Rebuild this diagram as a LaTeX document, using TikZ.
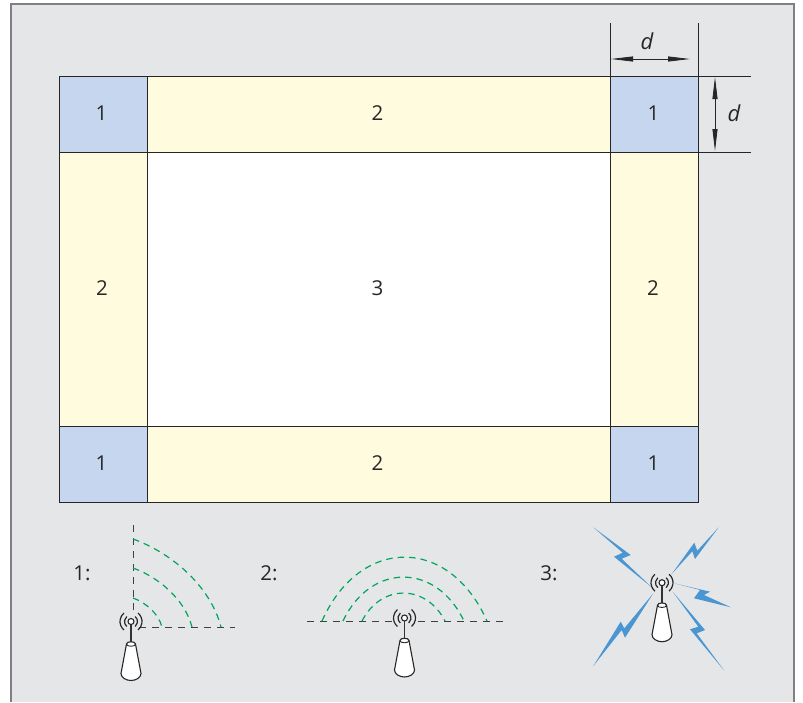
\documentclass[tikz,border=0pt]{standalone}
\usepackage{fontspec}
\setmainfont{Open Sans}
\usepackage{tikz}
\usetikzlibrary{arrows.meta}
\definecolor{panelgray}{HTML}{E5E6E8}
\definecolor{framegray}{HTML}{7F8083}
\definecolor{cornerblue}{HTML}{C5D6EE}
\definecolor{edgeyellow}{HTML}{FEFBDF}
\definecolor{wavegreen}{HTML}{00A65A}
\definecolor{boltblue}{HTML}{4A96D2}
\tikzset{
  label/.style={font=\fontsize{20.5}{24}\selectfont, text=black!85, inner sep=0pt},
  dimlabel/.style={font=\fontsize{22}{24}\selectfont\itshape, text=black!85, inner sep=0pt},
  cellline/.style={draw=black!85, line width=0.9pt},
  dimline/.style={black!85, line width=0.8pt},
  dimarrow/.style={black!85, line width=0.8pt, {Triangle[length=22pt,width=5pt]}-{Triangle[length=22pt,width=5pt]}},
  wave/.style={wavegreen, line width=1.2pt, dash pattern=on 6.5pt off 5pt},
  ground/.style={black!75, line width=0.9pt, dash pattern=on 7pt off 6pt},
  pics/antenna/.style={code={
    \draw[black!80, line width=1.3pt] (0,3) -- (0,22);
    \draw[black!85, line width=1.1pt, fill=white] (-4.5,22.5) -- (-10,52) .. controls (-10,56) and (-5,59) .. (0,59) .. controls (5,59) and (10,56) .. (10,52) -- (4.5,22.5) .. controls (4.5,19.5) and (-4.5,19.5) .. cycle;
    \draw[black!85, line width=0.9pt] (-4.5,22.5) .. controls (-4.5,25.5) and (4.5,25.5) .. (4.5,22.5);
    \draw[black!85, line width=1.1pt, fill=white] (0,0) circle (3);
    \foreach \r in {6.5,11} {
      \draw[black!85, line width=1.2pt] (-50:\r) arc (-50:50:\r);
      \draw[black!85, line width=1.2pt] (130:\r) arc (130:230:\r);
    }
  }}
}
\begin{document}
\begin{tikzpicture}[x=1pt,y=-1pt]
\useasboundingbox (0,0) rectangle (803,702);
\fill[panelgray] (11,4) rectangle (794,702);
\draw[framegray, line width=1.2pt] (11,702) -- (11,4) -- (794,4) -- (794,702);
% cells
\fill[white] (147,152) rectangle (610,426);
\foreach \xa/\xb in {59/147,610/698} {
  \foreach \ya/\yb in {76/152,426/502} {
    \fill[cornerblue] (\xa,\ya) rectangle (\xb,\yb);
  }
  \fill[edgeyellow] (\xa,152) rectangle (\xb,426);
}
\foreach \ya/\yb in {76/152,426/502}
  \fill[edgeyellow] (147,\ya) rectangle (610,\yb);
\draw[cellline] (59,76) rectangle (698,502);
\draw[cellline] (147,76) -- (147,502);
\draw[cellline] (610,76) -- (610,502);
\draw[cellline] (59,152) -- (698,152);
\draw[cellline] (59,426) -- (698,426);
\node[label] (c1a) at (101.5,113) {1};
\node[label] (c2a) at (377.5,113) {2};
\node[label] (c1b) at (653.5,113) {1};
\node[label] (c2b) at (102,288) {2};
\node[label] (c3) at (377.5,288) {3};
\node[label] (c2c) at (653,288) {2};
\node[label] (c1c) at (101.5,463) {1};
\node[label] (c2d) at (377.5,463) {2};
\node[label] (c1d) at (653.5,463) {1};
% dimensions
\coordinate (dxa) at (611,59);
\coordinate (dxb) at (690,59);
\coordinate (dya) at (715,77);
\coordinate (dyb) at (715,151);
\draw[dimline] (610,23) -- (610,76);
\draw[dimline] (698,23) -- (698,76);
\draw[dimline] (698,76) -- (751,76);
\draw[dimline] (698,152) -- (751,152);
\draw[dimarrow] (dxa) -- (dxb);
\draw[dimarrow] (dya) -- (dyb);
\node[dimlabel] (dtop) at (647,41) {d};
\node[dimlabel] (dright) at (734,113) {d};
% legend 1
\node[label] (leg1) at (82,573) {1:};
\draw[ground] (133,525) -- (133,612);
\draw[ground] (139,627) -- (235,627);
\foreach \r in {88,59,29}
  \draw[wave] (133,627-\r) .. controls (133+0.42*\r,627-0.85*\r) and (133+0.875*\r,627-0.48*\r) .. (133+\r,627);
\pic (antA) at (131,621.5) {antenna};
% legend 2
\node[label] (leg2) at (269,573) {2:};
\draw[ground] (307,621) -- (392,621);
\draw[ground] (418,621) -- (507,621);
\foreach \c/\w/\h in {404.5/82.5/64,403.5/60.5/44,403.5/41.5/28}
  \draw[wave] (\c-\w,621) .. controls (\c-0.54*\w,621-1.33*\h) and (\c+0.54*\w,621-1.33*\h) .. (\c+\w,621);
\pic (antB) at (404.5,618) {antenna};
% legend 3
\node[label] (leg3) at (549,573) {3:};
\fill[boltblue] (593.3,527.3) -- (630.7,555) -- (621.7,558.7) -- (651.7,587.3) -- (614,556.7) -- (622.7,552.7) -- cycle;
\fill[boltblue] (718.7,527.3) -- (695,559) -- (692.3,551.3) -- (671.7,574) -- (694.3,542.7) -- (697.3,550.7) -- cycle;
\fill[boltblue] (674.3,583.3) -- (710,591.7) -- (704,595) -- (731,607.3) -- (694,598.3) -- (700,590) -- cycle;
\fill[boltblue] (672.7,591.7) -- (705,630) -- (696.7,633.3) -- (724.3,670.7) -- (690,629.3) -- (698.3,626.7) -- cycle;
\fill[boltblue] (653.3,593.3) -- (625,637.7) -- (621.7,630) -- (593.3,666) -- (620.7,621.7) -- (624.3,628.3) -- cycle;
\pic (antC) at (662,582.7) {antenna};
\end{tikzpicture}
\end{document}
